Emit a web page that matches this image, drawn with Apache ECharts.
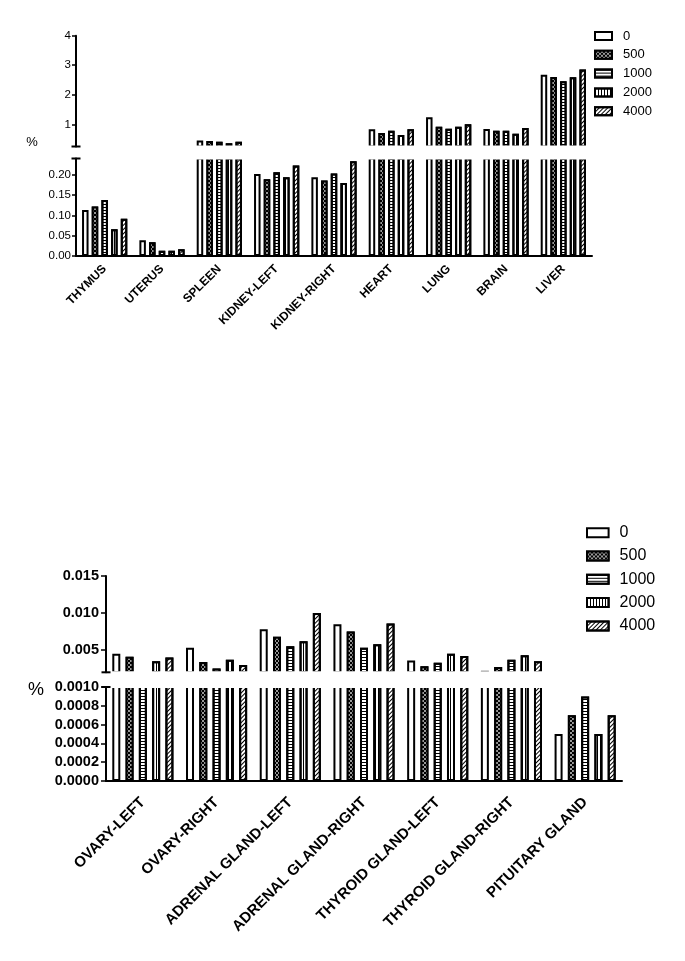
<!DOCTYPE html>
<html><head><meta charset="utf-8">
<script src="https://cdn.jsdelivr.net/npm/echarts@6/dist/echarts.min.js"></script>
<style>html,body{margin:0;padding:0;background:#fff}#c{width:685px;height:961px}</style>
</head><body><div id="c"></div>
<script>
// ---------- data ----------
const doses = ['0', '500', '1000', '2000', '4000'];

const topCategories = ['THYMUS', 'UTERUS', 'SPLEEN', 'KIDNEY-LEFT', 'KIDNEY-RIGHT', 'HEART', 'LUNG', 'BRAIN', 'LIVER'];
const top0    = [0.113, 0.039, 0.45, 0.202, 0.194, 0.83, 1.24, 0.84, 2.68];
const top500  = [0.122, 0.034, 0.44, 0.189, 0.186, 0.71, 0.92, 0.78, 2.60];
const top1000 = [0.138, 0.013, 0.41, 0.206, 0.203, 0.78, 0.85, 0.78, 2.46];
const top2000 = [0.066, 0.013, 0.36, 0.194, 0.180, 0.64, 0.92, 0.68, 2.59];
const top4000 = [0.092, 0.0165, 0.41, 0.223, 0.233, 0.83, 1.00, 0.88, 2.86];

const botCategories = ['OVARY-LEFT', 'OVARY-RIGHT', 'ADRENAL GLAND-LEFT', 'ADRENAL GLAND-RIGHT', 'THYROID GLAND-LEFT', 'THYROID GLAND-RIGHT', 'PITUITARY GLAND'];
const bot0    = [0.0045, 0.0053, 0.0078, 0.0085, 0.0036, 0.0022, 0.0005];
const bot500  = [0.0041, 0.0034, 0.0068, 0.0075, 0.0028, 0.0027, 0.0007];
const bot1000 = [0.0018, 0.0025, 0.0055, 0.0053, 0.0033, 0.0037, 0.0009];
const bot2000 = [0.0035, 0.0037, 0.0062, 0.0058, 0.0045, 0.0043, 0.0005];
const bot4000 = [0.0040, 0.0030, 0.0100, 0.0086, 0.0042, 0.0035, 0.0007];

// axis ranges & tick labels
const topUpperRange = [0.25, 4];
const topLowerRange = [0, 0.24];
const botUpperRange = [0.002, 0.015];
const botLowerRange = [0, 0.001];
const topUpperTicks = [1, 2, 3, 4];
const topLowerTicks = [0, 0.05, 0.10, 0.15, 0.20];
const botUpperTicks = [0.005, 0.010, 0.015];
const botLowerTicks = [0, 0.0002, 0.0004, 0.0006, 0.0008, 0.0010];

// ---------- styling ----------
const FONT = '"Liberation Sans", Arial, Helvetica, sans-serif';
const topSeriesData = [top0, top500, top1000, top2000, top4000];
const botSeriesData = [bot0, bot500, bot1000, bot2000, bot4000];

const fills = ['#fff', '#000', '#fff', '#fff', '#fff'];
const decals = [
  null,
  { symbol: 'rect', symbolSize: 0.8, dashArrayX: [[2, 2], [0, 2, 2, 0]], dashArrayY: [2, 0], color: '#fff' },
  { symbol: 'rect', symbolSize: 1, dashArrayX: [1, 0], dashArrayY: [1, 2], color: '#000' },
  { symbol: 'rect', symbolSize: 1, dashArrayX: [1, 2], dashArrayY: [1, 0], color: '#000' },
  { symbol: 'rect', symbolSize: 1, dashArrayX: [1, 0], dashArrayY: [1, 2], rotation: -Math.PI / 4, color: '#000' }
];

const grids = [
  { left: 76, right: 93, top: 35.7, height: 110.8 },   // top panel, upper part
  { left: 76, right: 93, top: 158.5, height: 97.5 },   // top panel, lower part
  { left: 106, right: 63, top: 576, height: 96.3 },    // bottom panel, upper part
  { left: 106, right: 63, top: 687, height: 94 }       // bottom panel, lower part
];

function xAxis(gi, cats, show, fs, margin) {
  return {
    type: 'category', gridIndex: gi, data: cats, show: show,
    axisLine: { lineStyle: { color: '#000', width: 2 } },
    axisTick: { alignWithLabel: true, length: 5, lineStyle: { color: '#000', width: 1.5 } },
    axisLabel: { interval: 0, rotate: 45, margin: margin, color: '#000', fontSize: fs, fontWeight: 'bold', fontFamily: FONT }
  };
}
function yAxis(gi, range, ticks, dec, fs, fw, margin, tickLen, sym) {
  return {
    type: 'value', gridIndex: gi, min: range[0], max: range[1], z: 10,
    splitLine: { show: false },
    axisLine: { show: true, symbol: sym, symbolSize: [9, 2], lineStyle: { color: '#000', width: 2 } },
    axisTick: { show: true, customValues: ticks, length: tickLen, lineStyle: { color: '#000', width: 1.5 } },
    axisLabel: { customValues: ticks, margin: margin, color: '#000', fontSize: fs, fontWeight: fw, fontFamily: FONT,
      formatter: v => v.toFixed(dec) }
  };
}

const series = [];
function addSeries(dataSets, upperIdx, lowerIdx, bw, gap) {
  dataSets.forEach((d, i) => {
    [upperIdx, lowerIdx].forEach(gi => {
      const itemStyle = { color: fills[i], borderColor: '#000', borderWidth: 2 };
      if (decals[i]) itemStyle.decal = decals[i];
      series.push({
        type: 'bar', name: doses[i], xAxisIndex: gi, yAxisIndex: gi, data: d,
        barWidth: bw, barGap: gap, clip: true, itemStyle: itemStyle, z: 2
      });
    });
  });
}
addSeries(topSeriesData, 0, 1, 6.5, '49%');
addSeries(botSeriesData, 2, 3, 8, '66%');

function legend(left, top, w, h, gap, fs, lh) {
  return {
    data: doses, orient: 'vertical', left: left, top: top, icon: 'rect', padding: 0,
    itemWidth: w, itemHeight: h, itemGap: gap, selectedMode: false,
    itemStyle: { borderColor: '#000', borderWidth: 2 },
    textStyle: { color: '#000', fontSize: fs, lineHeight: lh, fontFamily: FONT, padding: [0, 0, 0, 6] }
  };
}

// white masks over the axis-break gaps (derived from grid layout)
function gapMask(gU, gL) {
  const x = gU.left + 2, w = 685 - gU.right - gU.left + 6;
  const y = gU.top + gU.height - 1.1, h = gL.top - (gU.top + gU.height) + 2.2;
  return { type: 'rect', shape: { x: x, y: y, width: w, height: h }, style: { fill: '#fff' }, z: 5 };
}

const chart = echarts.init(document.getElementById('c'), null, { renderer: 'canvas' });
chart.setOption({
  animation: false,
  backgroundColor: '#fff',
  grid: grids.map(g => Object.assign({ outerBoundsMode: 'none' }, g)),
  xAxis: [
    xAxis(0, topCategories, false, 12, 11),
    xAxis(1, topCategories, true, 12, 11),
    xAxis(2, botCategories, false, 15, 19),
    xAxis(3, botCategories, true, 15, 19)
  ],
  yAxis: [
    yAxis(0, topUpperRange, topUpperTicks, 0, 11.5, 'normal', 5, 4, ['rect', 'none']),
    yAxis(1, topLowerRange, topLowerTicks, 2, 11.5, 'normal', 5, 4, ['none', 'rect']),
    yAxis(2, botUpperRange, botUpperTicks, 3, 14.5, 'bold', 7, 5, ['rect', 'none']),
    yAxis(3, botLowerRange, botLowerTicks, 4, 14.5, 'bold', 7, 5, ['none', 'rect'])
  ],
  legend: [
    legend(594, 29, 17, 8, 4.8, 13, 14),
    legend(586, 523.7, 21.6, 9, 5.3, 16, 18)
  ],
  graphic: [
    gapMask(grids[0], grids[1]),
    gapMask(grids[2], grids[3]),
    { type: 'text', x: 32, y: 142, z: 20, style: { text: '%', fontSize: 13, fontFamily: FONT, fill: '#000', align: 'center', verticalAlign: 'middle' } },
    { type: 'text', x: 36, y: 690, z: 20, style: { text: '%', fontSize: 18, fontFamily: FONT, fill: '#000', align: 'center', verticalAlign: 'middle' } }
  ],
  series: series
});
</script>
</body></html>
